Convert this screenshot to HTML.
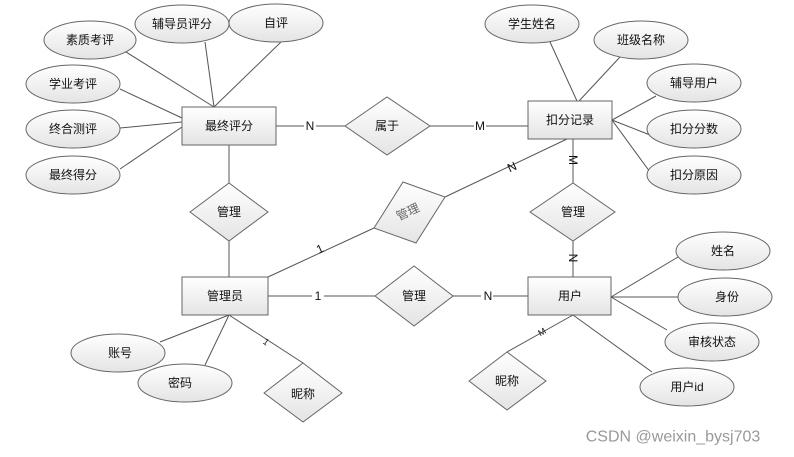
<!DOCTYPE html>
<html><head><meta charset="utf-8"><style>body{margin:0;background:#fff}svg{display:block}text{font-family:"Liberation Sans","Noto Sans CJK SC",sans-serif;font-size:12px;fill:#111;text-anchor:middle;dominant-baseline:central}</style></head><body>
<svg width="794" height="457" viewBox="0 0 794 457" xmlns="http://www.w3.org/2000/svg">
<defs>
<linearGradient id="g" x1="0" y1="0" x2="0" y2="1"><stop offset="0" stop-color="#ffffff"/><stop offset="1" stop-color="#e4e4e4"/></linearGradient>
</defs>
<g stroke="#555" stroke-width="1" fill="none">
<line x1="126" y1="52" x2="214" y2="107"/><line x1="205" y1="42" x2="214" y2="107"/><line x1="281" y1="42" x2="214" y2="107"/>
<line x1="120" y1="89" x2="182" y2="118"/><line x1="120" y1="128" x2="182" y2="122"/><line x1="120" y1="169" x2="182" y2="127"/>
<line x1="276" y1="126" x2="345" y2="126"/><line x1="430" y1="126" x2="528" y2="126"/>
<line x1="229" y1="145" x2="229" y2="183"/><line x1="229" y1="241" x2="229" y2="277"/>
<line x1="550" y1="42" x2="577" y2="101"/><line x1="620" y1="57" x2="579" y2="101"/>
<line x1="656" y1="96" x2="612" y2="120"/><line x1="650" y1="135" x2="612" y2="120"/><line x1="650" y1="172" x2="612" y2="120"/>
<line x1="573" y1="139" x2="573" y2="183"/><line x1="573" y1="241" x2="573" y2="277"/>
<line x1="268" y1="277" x2="374" y2="228"/><line x1="445" y1="197" x2="567" y2="139"/>
<line x1="268" y1="296" x2="375" y2="296"/><line x1="453" y1="296" x2="528" y2="296"/>
<line x1="229" y1="315" x2="160" y2="342"/><line x1="229" y1="315" x2="205" y2="365"/><line x1="229" y1="315" x2="303" y2="363"/>
<line x1="573" y1="315" x2="507" y2="352"/><line x1="573" y1="315" x2="652" y2="372"/>
<line x1="611" y1="297" x2="678" y2="257"/><line x1="611" y1="297" x2="678" y2="297"/><line x1="611" y1="297" x2="667" y2="330"/>
</g>
<g fill="url(#g)" stroke="#666" stroke-width="1">
<ellipse cx="90" cy="40" rx="46" ry="19"/><ellipse cx="182" cy="24" rx="47" ry="19"/><ellipse cx="276" cy="23" rx="47" ry="19"/>
<ellipse cx="73" cy="84" rx="47" ry="19"/><ellipse cx="73" cy="129" rx="47" ry="19"/><ellipse cx="73" cy="175" rx="47" ry="19"/>
<ellipse cx="532" cy="24" rx="47" ry="19"/><ellipse cx="641" cy="40" rx="47" ry="19"/>
<ellipse cx="694" cy="83" rx="47" ry="19"/><ellipse cx="694" cy="129" rx="47" ry="19"/><ellipse cx="694" cy="175" rx="47" ry="19"/>
<ellipse cx="723" cy="251" rx="47" ry="19"/><ellipse cx="725" cy="297" rx="47" ry="19"/><ellipse cx="712" cy="342" rx="47" ry="19"/><ellipse cx="687" cy="387" rx="47" ry="19"/>
<ellipse cx="118" cy="353" rx="47" ry="19"/><ellipse cx="185" cy="383" rx="47" ry="19"/>
<rect x="182" y="107" width="94" height="38"/><rect x="528" y="101" width="84" height="38"/>
<rect x="182" y="277" width="86" height="38"/><rect x="528" y="277" width="83" height="38"/>
<polygon points="345,126 387,97 430,126 387,155"/>
<polygon points="190,212 229,183 268,212 229,241"/>
<polygon points="530,212 573,183 615,212 573,241"/>
<polygon points="375,296 414,266 453,296 414,326"/>
<polygon points="374,228 403,182 445,197 416,243"/>
<polygon points="264,393 303,363 342,393 303,422"/>
<polygon points="469,381 507,352 546,381 507,410"/>
</g>
<g fill="#fff"><rect x="304" y="119" width="12" height="14"/><rect x="474" y="119" width="12" height="14"/><rect x="312" y="289" width="12" height="14"/><rect x="481" y="289" width="12" height="14"/></g>
<text x="90" y="40">素质考评</text><text x="182" y="24">辅导员评分</text><text x="276" y="23">自评</text>
<text x="73" y="84">学业考评</text><text x="73" y="129">终合测评</text><text x="73" y="175">最终得分</text>
<text x="229" y="126">最终评分</text><text x="570" y="120">扣分记录</text>
<text x="225" y="296">管理员</text><text x="570" y="296">用户</text>
<text x="532" y="24">学生姓名</text><text x="641" y="40">班级名称</text><text x="694" y="83">辅导用户</text><text x="694" y="129">扣分分数</text><text x="694" y="175">扣分原因</text>
<text x="723" y="251">姓名</text><text x="727" y="297">身份</text><text x="712" y="342">审核状态</text><text x="687" y="387">用户id</text>
<text x="120" y="353">账号</text><text x="180" y="383">密码</text>
<g style="font-size:9px"><text x="387" y="126">属于</text><text x="229" y="212">管理</text><text x="573" y="212">管理</text><text x="414" y="296">管理</text><text x="303" y="394">昵称</text><text x="507" y="381">昵称</text>
<text x="408" y="212" transform="rotate(-25 408 212)" style="fill:#666">管理</text></g>
<g style="font-size:11px"><text x="310" y="126">N</text><text x="480" y="126">M</text><text x="318" y="296">1</text><text x="488" y="296">N</text>
<text x="573" y="160" transform="rotate(90 573 160)">M</text><text x="573" y="258" transform="rotate(90 573 258)">N</text>
<text x="512" y="167" transform="rotate(-25 512 167)">N</text><text x="320" y="249" transform="rotate(-25 320 249)">1</text>
<text x="266" y="342" transform="rotate(35 266 342)" style="font-size:9px">1</text><text x="542" y="332" transform="rotate(-30 542 332)" style="font-size:9px">M</text></g>
<text x="673" y="437" style="font-size:16px;fill:#999">CSDN @weixin_bysj703</text>
</svg>
</body></html>
